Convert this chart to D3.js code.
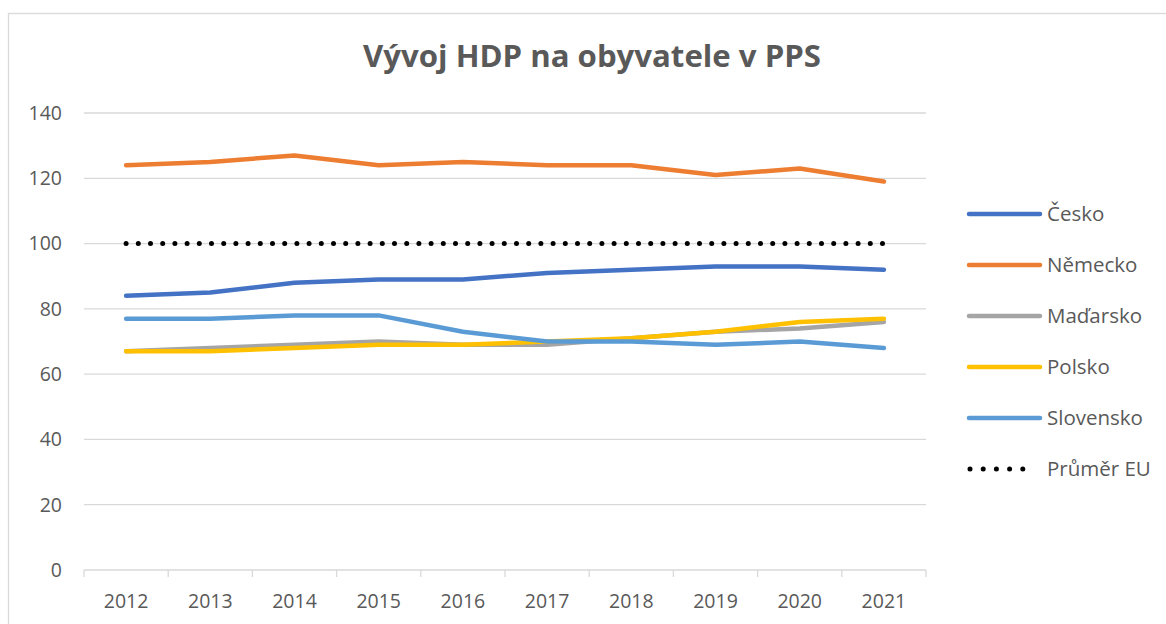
<!DOCTYPE html>
<meta charset="utf-8">
<head>
  <title>Vývoj HDP na obyvatele v PPS</title>
  <style>
    body { margin: 0; background: #fff; }
    svg text { font-family: "Open Sans", sans-serif; fill: #595959; }
  </style>
</head>

<script src="https://d3js.org/d3.v7.min.js"></script>

<svg id="chart" width="1166" height="624"></svg>

<script>
// data
var years = ["2012", "2013", "2014", "2015", "2016", "2017", "2018", "2019", "2020", "2021"]
var cesko     = [84, 85, 88, 89, 89, 91, 92, 93, 93, 92]
var nemecko   = [124, 125, 127, 124, 125, 124, 124, 121, 123, 119]
var madarsko  = [67, 68, 69, 70, 69, 69, 71, 73, 74, 76]
var polsko    = [67, 67, 68, 69, 69, 70, 71, 73, 76, 77]
var slovensko = [77, 77, 78, 78, 73, 70, 70, 69, 70, 68]
var prumerEU  = [100, 100, 100, 100, 100, 100, 100, 100, 100, 100]
var yTicks = [0, 20, 40, 60, 80, 100, 120, 140]

var series = [
  {name: "Česko", values: cesko, color: "#4472C4"},
  {name: "Německo", values: nemecko, color: "#ED7D31"},
  {name: "Maďarsko", values: madarsko, color: "#A5A5A5"},
  {name: "Polsko", values: polsko, color: "#FFC000"},
  {name: "Slovensko", values: slovensko, color: "#5B9BD5"},
  {name: "Průměr EU", values: prumerEU, color: "#000000", dotted: true}
]

var svg = d3.select("#chart")

// chart frame
svg.append("rect")
  .attr("x", 8.5).attr("y", 13.5)
  .attr("width", 1170).attr("height", 640)
  .attr("fill", "none").attr("stroke", "#d9d9d9").attr("stroke-width", 1.3)

var x = d3.scaleBand().domain(years).range([84, 926])
var y = d3.scaleLinear().domain([0, 140]).range([570, 113])
var cx = d => x(d) + x.bandwidth() / 2

// gridlines
svg.append("g").selectAll("line")
  .data(yTicks.filter(d => d > 0))
  .join("line")
  .attr("x1", x.range()[0]).attr("x2", x.range()[1])
  .attr("y1", d => y(d)).attr("y2", d => y(d))
  .attr("stroke", "#d9d9d9").attr("stroke-width", 1.3)

// y labels
svg.append("g").selectAll("text")
  .data(yTicks)
  .join("text")
  .attr("x", 62).attr("y", d => y(d))
  .attr("dy", "0.35em")
  .attr("text-anchor", "end")
  .style("font-size", "19.5px")
  .text(d => d)

// x axis line and tick marks
var xa = svg.append("g")
xa.append("line")
  .attr("x1", x.range()[0]).attr("x2", x.range()[1])
  .attr("y1", y(0)).attr("y2", y(0))
  .attr("stroke", "#d9d9d9").attr("stroke-width", 1.3)
xa.selectAll(".tick")
  .data(years.map(d => x(d)).concat([x.range()[1]]))
  .join("line")
  .attr("x1", d => d).attr("x2", d => d)
  .attr("y1", y(0)).attr("y2", y(0) + 7)
  .attr("stroke", "#d9d9d9").attr("stroke-width", 1.3)
xa.selectAll("text")
  .data(years)
  .join("text")
  .attr("x", d => cx(d)).attr("y", 601)
  .attr("dy", "0.35em")
  .attr("text-anchor", "middle")
  .style("font-size", "19.5px")
  .text(d => d)

// lines
var line = d3.line()
  .x((d, i) => cx(years[i]))
  .y(d => y(d))

svg.append("g").selectAll("path")
  .data(series)
  .join("path")
  .attr("d", d => line(d.values))
  .attr("fill", "none")
  .attr("stroke", d => d.color)
  .attr("stroke-width", d => d.dotted ? 5 : 4.5)
  .attr("stroke-linecap", "round")
  .attr("stroke-linejoin", "round")
  .attr("stroke-dasharray", d => d.dotted ? "0 12.2" : null)

// legend
var legend = svg.append("g").selectAll("g")
  .data(series)
  .join("g")
  .attr("transform", (d, i) => "translate(969," + (214 + i * 51) + ")")

legend.append("line")
  .attr("x1", d => d.dotted ? 1 : 0).attr("x2", d => d.dotted ? 67 : 71)
  .attr("stroke", d => d.color)
  .attr("stroke-width", d => d.dotted ? 5 : 4.5)
  .attr("stroke-linecap", "round")
  .attr("stroke-dasharray", d => d.dotted ? "0 13.2" : null)

legend.append("text")
  .attr("x", 78).attr("dy", "0.35em")
  .style("font-size", "20.5px")
  .text(d => d.name)

// title
var title = svg.append("text")
  .attr("x", 592).attr("y", 67)
  .attr("text-anchor", "middle")
  .style("font-size", "29px")
  .style("font-weight", "bold")
  .text("Vývoj HDP na obyvatele v PPS")
var tw = title.node().getComputedTextLength()
title.style("font-size", (29 * 458 / tw) + "px")
</script>
